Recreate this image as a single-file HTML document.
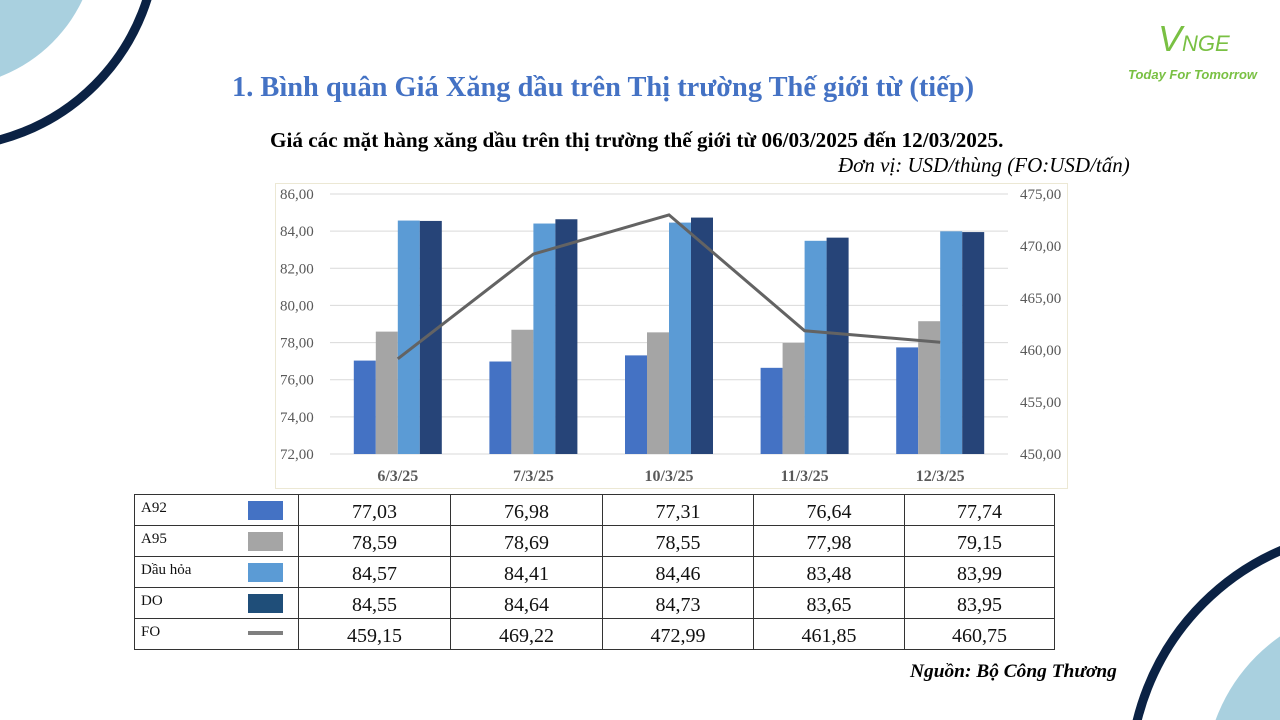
<!DOCTYPE html>
<html><head><meta charset="utf-8">
<style>
html,body{margin:0;width:1280px;height:720px;overflow:hidden;}
body{background:#fff;position:relative;font-family:"Liberation Serif",serif;}
.abs{position:absolute;}
table{border-collapse:collapse;table-layout:fixed;}
td{border:1px solid #333;height:26px;line-height:26px;padding:4px 0 0 0;font-size:20px;text-align:center;color:#111;overflow:hidden;}
td.lab{text-align:left;font-size:15px;padding:2px 0 0 6px;height:28px;line-height:22px;vertical-align:top;}
</style></head><body>
<svg class="abs" style="left:0;top:0" width="1280" height="720">
<circle cx="-55" cy="-65" r="152" fill="#a9d0df"/>
<circle cx="-55" cy="-65" r="212" fill="none" stroke="#0b2244" stroke-width="9"/>
<circle cx="1380" cy="780" r="175" fill="#a9d0df"/>
<circle cx="1380" cy="780" r="250" fill="none" stroke="#0b2244" stroke-width="9"/>
</svg>
<div class="abs" style="left:1128px;top:18px;width:140px;height:70px;font-family:'Liberation Sans',sans-serif;color:#79c043;">
<div style="position:absolute;left:30px;top:0;font-size:36px;font-style:italic;">V<span style="font-size:22px">NGE</span></div>
<div style="position:absolute;left:0;top:49px;font-size:13px;font-weight:bold;font-style:italic;">Today For Tomorrow</div>
</div>
<div class="abs" style="left:232px;top:72px;font-size:28.4px;font-weight:bold;color:#4472c4;white-space:nowrap;">1. Bình quân Giá Xăng dầu trên Thị trường Thế giới từ (tiếp)</div>
<div class="abs" style="left:270px;top:128px;font-size:21.2px;font-weight:bold;white-space:nowrap;">Giá các mặt hàng xăng dầu trên thị trường thế giới từ 06/03/2025 đến 12/03/2025.</div>
<div class="abs" style="left:838px;top:153px;font-size:21px;font-style:italic;white-space:nowrap;">Đơn vị:  USD/thùng (FO:USD/tấn)</div>
<svg class="abs" id="chart" style="left:0;top:0" width="1280" height="720"></svg>
<table class="abs" style="left:134px;top:494px;width:918px" id="tbl"></table>
<div class="abs" style="left:910px;top:661px;font-size:19.4px;font-weight:bold;font-style:italic;white-space:nowrap;">Nguồn: Bộ Công Thương</div>
<script>
const categories=["6/3/25","7/3/25","10/3/25","11/3/25","12/3/25"];
const seriesNames=["A92","A95","Dầu hỏa","DO","FO"];
const a92=[77.03,76.98,77.31,76.64,77.74];
const a95=[78.59,78.69,78.55,77.98,79.15];
const dauHoa=[84.57,84.41,84.46,83.48,83.99];
const doVals=[84.55,84.64,84.73,83.65,83.95];
const fo=[459.15,469.22,472.99,461.85,460.75];
const leftTicks=[72,74,76,78,80,82,84,86];
const rightTicks=[450,455,460,465,470,475];
const colors=["#4472c4","#a5a5a5","#5b9bd5","#264478"];
const NS="http://www.w3.org/2000/svg";
const svg=document.getElementById('chart');
const X0=330,X1=1008,Y0=454,Y1=194;
const yL=v=>Y0-(v-72)/(86-72)*(Y0-Y1);
const yR=v=>Y0-(v-450)/(475-450)*(Y0-Y1);
const bw=(X1-X0)/categories.length;
const xc=i=>X0+bw*(i+0.5);
function el(t,a){const e=document.createElementNS(NS,t);for(const k in a)e.setAttribute(k,a[k]);svg.appendChild(e);return e;}
const box=el('rect',{x:275.5,y:183.5,width:792,height:305,fill:'none',stroke:'#ece8d4'});


leftTicks.forEach(v=>{const g=el('line',{x1:X0,x2:X1,y1:yL(v),y2:yL(v),stroke:'#d9d9d9'});


const t=el('text',{x:280,y:yL(v)+5,'font-size':15,fill:'#595959','font-family':'Liberation Serif, serif'});t.textContent=v.toFixed(2).replace('.',',');

});
rightTicks.forEach(v=>{const t=el('text',{x:1020,y:yR(v)+5,'font-size':15,fill:'#595959','font-family':'Liberation Serif, serif'});t.textContent=v.toFixed(2).replace('.',',');

});
const bars=[a92,a95,dauHoa,doVals];const barW=22;
categories.forEach((c,i)=>{
 bars.forEach((s,j)=>{const x=xc(i)-2*barW+j*barW;const r=el('rect',{x:x,y:yL(s[i]),width:barW,height:Y0-yL(s[i]),fill:colors[j]});
 
 });
 const t=el('text',{x:xc(i),y:481,'font-size':16,'font-weight':'bold',fill:'#595959','text-anchor':'middle','font-family':'Liberation Serif, serif'});t.textContent=c;
 
 
});
const ln=el('polyline',{points:fo.map((v,i)=>xc(i)+','+yR(v)).join(' '),fill:'none',stroke:'#636363','stroke-width':3});


const tbl=document.getElementById('tbl');
const all=[a92,a95,dauHoa,doVals,fo];
const swc=["#4472c4","#a5a5a5","#5b9bd5","#1f4e79"];
const widths=[151,151,150,150,149];
all.forEach((s,j)=>{
 const tr=document.createElement('tr');
 const td=document.createElement('td');td.className='lab';td.style.width='157px';td.style.position='relative';
 td.textContent=seriesNames[j];
 const sw=document.createElement('div');sw.style.cssText='position:absolute;left:113px;width:35px;'+(j<4?'top:6px;height:19px;background:'+swc[j]:'top:12px;height:4px;background:#7f7f7f');
 
 
 td.appendChild(sw);
 
 
 tr.appendChild(td);
 s.forEach((v,k)=>{const c=document.createElement('td');c.textContent=v.toFixed(2).replace('.',',');c.style.width=widths[k]+'px';
 
 
 tr.appendChild(c);});
 tbl.appendChild(tr);
});
</script>
</body></html>
